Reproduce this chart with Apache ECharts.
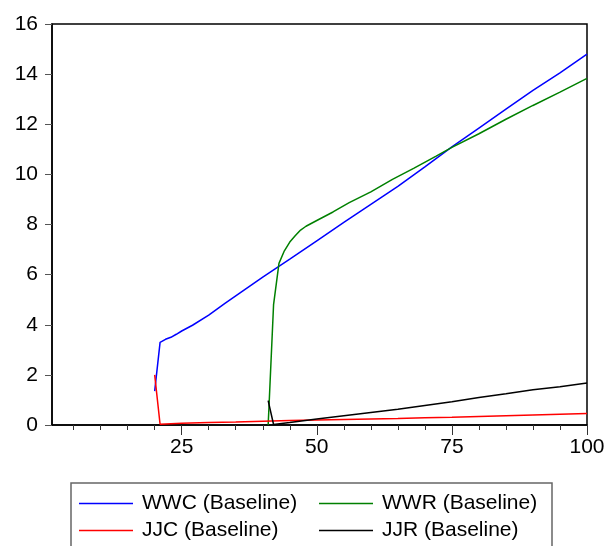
<!DOCTYPE html>
<html>
<head>
<meta charset="utf-8">
<script src="https://cdn.jsdelivr.net/npm/echarts@6/dist/echarts.min.js"></script>
<style>
    html, body { margin: 0; padding: 0; background: #fff; }
    #chart { width: 608px; height: 546px; }
</style>
</head>
<body>
<div id="chart"></div>
<script>
    const wwc = [[20, 1.35], [21, 3.3], [22, 3.42], [23, 3.5], [24, 3.62], [25, 3.75], [27, 3.98], [30, 4.38],
        [33, 4.85], [36, 5.3], [40, 5.9], [45, 6.62], [50, 7.35], [55, 8.08], [60, 8.8], [65, 9.52], [70, 10.3],
        [75, 11.1], [80, 11.85], [85, 12.6], [90, 13.35], [95, 14.05], [100, 14.8]];
    const wwr = [[41, 0], [42, 4.8], [43, 6.45], [44, 6.95], [45, 7.3], [46, 7.55], [47, 7.78], [48, 7.93],
        [50, 8.16], [53, 8.5], [56, 8.87], [60, 9.3], [64, 9.8], [68, 10.25], [72, 10.72], [75, 11.08],
        [80, 11.62], [85, 12.2], [90, 12.75], [95, 13.28], [100, 13.83]];
    const jjc = [[20, 2.0], [21, 0.03], [25, 0.07], [30, 0.1], [35, 0.12], [40, 0.15], [45, 0.18], [50, 0.2],
        [55, 0.22], [60, 0.24], [65, 0.26], [70, 0.29], [75, 0.31], [80, 0.34], [85, 0.37], [90, 0.4],
        [95, 0.43], [100, 0.46]];
    const jjr = [[41, 0.97], [42, 0.02], [45, 0.1], [50, 0.24], [55, 0.37], [60, 0.5], [65, 0.63], [70, 0.78],
        [75, 0.93], [80, 1.1], [85, 1.25], [90, 1.41], [95, 1.53], [100, 1.68]];

    const minorTicks = [5, 10, 15, 20, 25, 30, 35, 40, 45, 50, 55, 60, 65, 70, 75, 80, 85, 90, 95, 100];
    const majorTicks = [25, 50, 75, 100];

    const font = 'Liberation Sans, Arial, sans-serif';

    const chart = echarts.init(document.getElementById('chart'));

    function line(name, color, data) {
        return {
            name: name,
            type: 'line',
            data: data,
            symbol: 'none',
            lineStyle: {color: color, width: 1.5},
            itemStyle: {color: color},
            animation: false
        };
    }

    const legendBase = {
        orient: 'vertical',
        top: 493,
        height: 53,
        padding: 0,
        icon: 'rect',
        itemWidth: 54,
        itemHeight: 1.5,
        itemGap: 6,
        textStyle: {fontFamily: font, fontSize: 21, color: '#000', lineHeight: 21, padding: [0, 0, 0, 4]}
    };

    chart.setOption({
        animation: false,
        grid: {
            left: 52,
            right: 21,
            top: 24,
            bottom: 121,
            show: true,
            borderColor: '#000',
            borderWidth: 1.5
        },
        legend: [
            Object.assign({}, legendBase, {left: 79, data: ['WWC (Baseline)', 'JJC (Baseline)']}),
            Object.assign({}, legendBase, {left: 319, data: ['WWR (Baseline)', 'JJR (Baseline)']})
        ],
        graphic: [{
            type: 'rect',
            shape: {x: 71, y: 483, width: 481, height: 90},
            style: {fill: 'none', stroke: '#666', lineWidth: 1.5},
            silent: true
        }],
        xAxis: [
            {
                type: 'value',
                min: 1,
                max: 100,
                splitLine: {show: false},
                axisLine: {show: true, onZero: false, lineStyle: {color: '#000', width: 1.5}},
                axisTick: {show: true, customValues: minorTicks, length: 5, lineStyle: {color: '#333'}},
                axisLabel: {show: false}
            },
            {
                type: 'value',
                position: 'bottom',
                min: 1,
                max: 100,
                splitLine: {show: false},
                axisLine: {show: false},
                axisTick: {show: true, customValues: majorTicks, length: 10, lineStyle: {color: '#333'}},
                axisLabel: {
                    show: true, customValues: majorTicks, margin: 12,
                    fontFamily: font, fontSize: 21, color: '#000'
                }
            }
        ],
        yAxis: {
            type: 'value',
            min: 0,
            max: 16,
            interval: 2,
            splitLine: {show: false},
            axisLine: {show: true, lineStyle: {color: '#000', width: 1.5}},
            axisTick: {show: true, length: 7, lineStyle: {color: '#555'}},
            axisLabel: {margin: 14, fontFamily: font, fontSize: 21, color: '#000'}
        },
        series: [
            line('WWC (Baseline)', '#0000ff', wwc),
            line('WWR (Baseline)', '#008000', wwr),
            line('JJC (Baseline)', '#ff0000', jjc),
            line('JJR (Baseline)', '#000000', jjr)
        ]
    });
</script>
</body>
</html>
